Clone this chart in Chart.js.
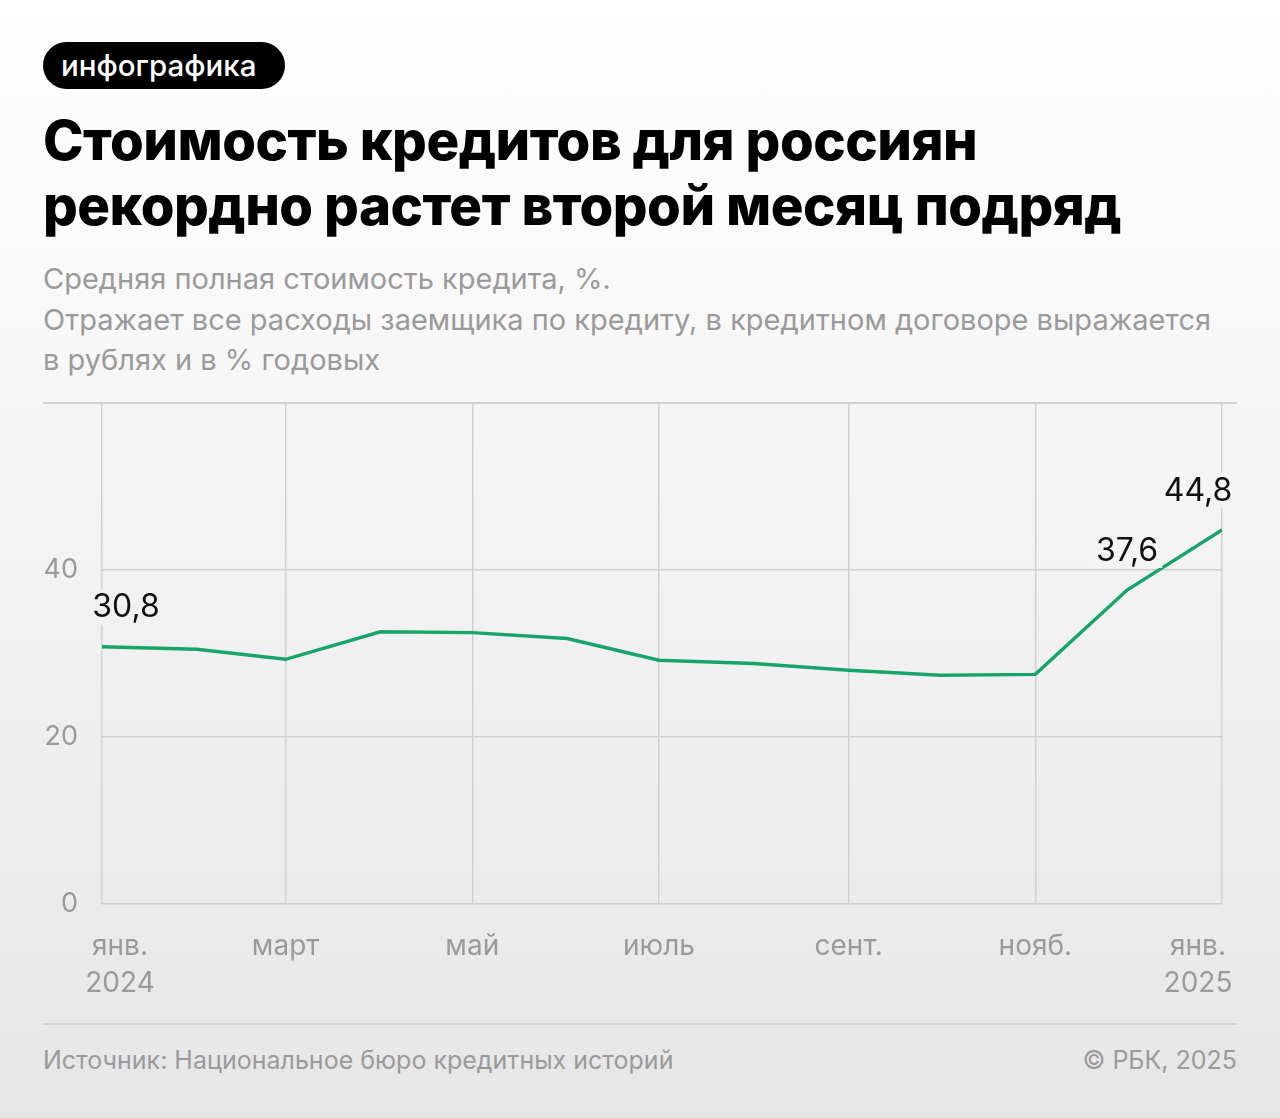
<!DOCTYPE html>
<html lang="ru">
<head>
<meta charset="UTF-8">
<title>Стоимость кредитов для россиян</title>
<script src="https://cdn.jsdelivr.net/npm/chart.js@4.4.1/dist/chart.umd.min.js"></script>
<style>
  html, body { margin: 0; padding: 0; }
  body {
    width: 1280px; height: 1118px; position: relative; overflow: hidden;
    background: linear-gradient(180deg, #ffffff 0%, #e6e6e6 100%);
    font-family: "Inter", "Roboto", sans-serif;
  }
  .badge {
    position: absolute; left: 43px; top: 42px; height: 47px; width: 242px;
    background: #000; color: #fff; border-radius: 24px;
    font-size: 29.5px; font-weight: 500; line-height: 47px;
    box-sizing: border-box; padding-left: 18px;
  }
  h1 {
    position: absolute; left: 43px; top: 108px; margin: 0;
    font-size: 54.6px; font-weight: 800; line-height: 65px; color: #000;
    letter-spacing: -0.5px;
  }
  .sub {
    position: absolute; left: 43px; top: 259px; margin: 0;
    font-size: 29px; line-height: 40.5px; color: #9a9a9a; font-weight: 400;
  }
  .sep { position: absolute; left: 43px; width: 1194px; height: 0; border-top: 2px solid #d2d2d2; }
  .wrap { position: absolute; left: 0; top: 380px; width: 1280px; height: 640px; }
  .foot {
    position: absolute; top: 1043px; font-size: 25px; color: #9a9a9a; line-height: 34px;
  }
</style>
</head>
<body>
<div class="badge">инфографика</div>
<h1>Стоимость кредитов для россиян<br>рекордно растет второй месяц подряд</h1>
<p class="sub">Средняя полная стоимость кредита, %.<br>Отражает все расходы заемщика по кредиту, в кредитном договоре выражается<br>в рублях и в % годовых</p>
<div class="sep" style="top:402px"></div>
<div class="wrap"><canvas id="chart"></canvas></div>
<div class="sep" style="top:1023px"></div>
<div class="foot" style="left:43px">Источник: Национальное бюро кредитных историй</div>
<div class="foot" style="right:43px">© РБК, 2025</div>

<script>
// месяцы и значения ПСК, %
const months = ['2024-01', '2024-02', '2024-03', '2024-04', '2024-05', '2024-06', '2024-07',
                '2024-08', '2024-09', '2024-10', '2024-11', '2024-12', '2025-01'];
const values = [30.8, 30.5, 29.3, 32.6, 32.5, 31.8, 29.2, 28.8, 28.0, 27.4, 27.5, 37.6, 44.8];

// подписи оси X
const tickMonths = ['2024-01', '2024-03', '2024-05', '2024-07', '2024-09', '2024-11', '2025-01'];
const tickLabels = [['янв.', '2024'], 'март', 'май', 'июль', 'сент.', 'нояб.', ['янв.', '2025']];
const yTicks = [0, 20, 40];

// точки с подписью значения
const labeledIdx = [0, 11, 12];

// дни от начала 2024 года
const dayOf = m => {
    const [y, mo] = m.split('-').map(Number);
    return (Date.UTC(y, mo - 1, 1) - Date.UTC(2024, 0, 1)) / 86400000;
};
const tickDays = tickMonths.map(dayOf);

const GRID = '#d0d0d0';
const GREEN = '#17a468';
const FONT = 'Inter, Roboto, sans-serif';

// цвет фона страницы на данной высоте
const bgAt = (chart, y) => {
    const abs = chart.canvas.getBoundingClientRect().top + y;
    const g = Math.round(255 - 25 * abs / 1118);
    return `rgb(${g},${g},${g})`;
};

// подписи значений и подписи оси X (крайние смещены внутрь)
const labelsPlugin = {
    id: 'labelsPlugin',
    afterDraw(chart) {
        const { ctx, chartArea } = chart;
        const meta = chart.getDatasetMeta(0);
        const xs = chart.scales.x;
        ctx.save();
        ctx.textBaseline = 'middle';
        ctx.textAlign = 'center';

        ctx.font = `400 32px ${FONT}`;
        labeledIdx.forEach(i => {
            const pt = meta.data[i];
            const text = values[i].toFixed(1).replace('.', ',');
            const w = ctx.measureText(text).width;
            let cx = pt.x;
            if (i === 0) cx = pt.x + 24;
            if (i === values.length - 1) cx = pt.x - 24;
            const cy = pt.y - 40;
            ctx.fillStyle = bgAt(chart, cy);
            ctx.fillRect(cx - w / 2 - 4, cy - 18, w + 8, 36);
            ctx.fillStyle = '#111';
            ctx.fillText(text, cx, cy + 1);
        });

        ctx.font = `400 28px ${FONT}`;
        ctx.fillStyle = '#9a9a9a';
        tickDays.forEach((d, k) => {
            let x = xs.getPixelForValue(d);
            if (k === 0) x += 18;
            if (k === tickDays.length - 1) x -= 24;
            const lines = [].concat(tickLabels[k]);
            lines.forEach((t, j) => ctx.fillText(t, x, chartArea.bottom + 43 + j * 37));
        });
        ctx.restore();
    }
};

new Chart(document.getElementById('chart'), {
    type: 'line',
    data: {
        datasets: [{
            data: months.map((m, i) => ({ x: dayOf(m), y: values[i] })),
            borderColor: GREEN,
            borderWidth: 3.5,
            pointRadius: 0,
            tension: 0,
            fill: false
        }]
    },
    options: {
        responsive: true,
        maintainAspectRatio: false,
        animation: false,
        layout: { padding: { left: 43, right: 58, top: 23, bottom: 16 } },
        plugins: { legend: { display: false }, tooltip: { enabled: false } },
        scales: {
            x: {
                type: 'linear',
                min: 0,
                max: tickDays[tickDays.length - 1],
                afterBuildTicks: s => { s.ticks = tickDays.map(v => ({ value: v })); },
                afterFit: s => { s.height = 100; },
                ticks: { display: false },
                grid: { color: GRID, lineWidth: 1.5, drawTicks: false },
                border: { display: false }
            },
            y: {
                min: 0,
                max: 60,
                afterBuildTicks: s => { s.ticks = yTicks.map(v => ({ value: v })); },
                afterFit: s => { s.width = 59; s.paddingTop = 0; s.paddingBottom = 0; },
                ticks: {
                    padding: 24,
                    color: '#9a9a9a',
                    font: { family: FONT, size: 27 }
                },
                grid: { color: GRID, lineWidth: 1.5, drawTicks: false },
                border: { display: false }
            }
        }
    },
    plugins: [labelsPlugin]
});
</script>
</body>
</html>
